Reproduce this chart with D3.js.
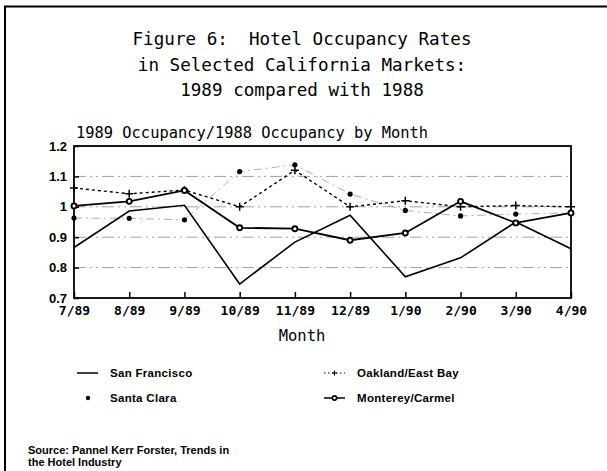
<!DOCTYPE html>
<html>
<head>
<meta charset="utf-8">
<script src="https://cdn.jsdelivr.net/npm/d3@7"></script>
<style>
  body { margin: 0; background: #fff; }
  svg text { fill: #000; white-space: pre; }
</style>
</head>
<body>
<div id="chart"></div>
<script>
// chart data
var months = ["7/89", "8/89", "9/89", "10/89", "11/89", "12/89", "1/90", "2/90", "3/90", "4/90"];
var sanFrancisco = [0.866, 0.986, 1.005, 0.746, 0.884, 0.972, 0.770, 0.832, 0.950, 0.862];
var santaClara   = [0.963, 0.962, 0.957, 1.116, 1.138, 1.042, 0.988, 0.970, 0.976, 0.980];
var oakland      = [1.062, 1.043, 1.055, 1.000, 1.120, 1.000, 1.020, 1.000, 1.004, 1.000];
var monterey     = [1.003, 1.018, 1.054, 0.931, 0.928, 0.890, 0.914, 1.018, 0.947, 0.980];
var yTicks = [0.7, 0.8, 0.9, 1, 1.1, 1.2];
var gridVals = [0.8, 0.9, 1, 1.1];
var titleLines = ["Figure 6:  Hotel Occupancy Rates", "in Selected California Markets:", "1989 compared with 1988"];

var W = 607, H = 471;
var margin = { top: 146, right: 36, bottom: 173, left: 74 },
    width = W - margin.left - margin.right,
    height = H - margin.top - margin.bottom;

var svg = d3.select("#chart").append("svg")
    .attr("width", W)
    .attr("height", H);

// page border (top and left)
svg.append("path")
    .attr("d", "M5,471 L5,6.5 L607,6.5")
    .attr("fill", "none")
    .attr("stroke", "#000")
    .attr("stroke-width", 2);

svg.selectAll("text.title")
    .data(titleLines)
    .enter().append("text")
    .attr("class", "title")
    .attr("x", 302)
    .attr("y", function(d, i) { return 45 + i * 25.5; })
    .attr("text-anchor", "middle")
    .style("font-family", "'DejaVu Sans Mono', monospace")
    .style("font-size", "17.6px")
    .text(function(d) { return d; });

svg.append("text")
    .attr("x", 76)
    .attr("y", 138)
    .style("font-family", "'DejaVu Sans Mono', monospace")
    .style("font-size", "15.4px")
    .text("1989 Occupancy/1988 Occupancy by Month");

var g = svg.append("g")
    .attr("transform", "translate(" + margin.left + "," + margin.top + ")");

var x = d3.scalePoint().domain(months).range([0, width]);
var y = d3.scaleLinear().domain([0.7, 1.2]).range([height, 0]);

// dash-dot grid lines
g.selectAll("line.grid")
    .data(gridVals)
    .enter().append("line")
    .attr("class", "grid")
    .attr("x1", 0).attr("x2", width)
    .attr("y1", function(d) { return y(d); })
    .attr("y2", function(d) { return y(d); })
    .attr("stroke", "#a0a0a0")
    .attr("stroke-width", 1)
    .attr("stroke-dasharray", "12,4,2,4,2,4");

// axes with inward ticks
var yAxis = g.append("g")
    .call(d3.axisLeft(y).tickValues(yTicks).tickSize(-5).tickPadding(7)
        .tickFormat(function(d) { return d === 1 ? "1" : d3.format(".1f")(d); }));
var xAxis = g.append("g")
    .attr("transform", "translate(0," + height + ")")
    .call(d3.axisBottom(x).tickSize(-6).tickPadding(8));

[yAxis, xAxis].forEach(function(a) {
    a.select(".domain").remove();
    a.selectAll("line").attr("stroke", "#000").attr("stroke-width", 1.5);
});
yAxis.selectAll("text")
    .style("font-family", "'Liberation Sans', Arial, sans-serif")
    .style("font-weight", "bold")
    .style("font-size", "13px");
xAxis.selectAll("text")
    .style("font-family", "'DejaVu Sans Mono', monospace")
    .style("font-weight", "bold")
    .style("font-size", "13px");

g.append("rect")
    .attr("width", width)
    .attr("height", height)
    .attr("fill", "none")
    .attr("stroke", "#000")
    .attr("stroke-width", 1.8);

svg.append("text")
    .attr("x", 302)
    .attr("y", 341)
    .attr("text-anchor", "middle")
    .style("font-family", "'DejaVu Sans Mono', monospace")
    .style("font-size", "15.5px")
    .text("Month");

var line = d3.line()
    .defined(function(d) { return d != null; })
    .x(function(d, i) { return x(months[i]); })
    .y(function(d) { return y(d); });

// Santa Clara: dots joined by a faint dash-dot line
g.append("path")
    .attr("d", line(santaClara))
    .attr("fill", "none")
    .attr("stroke", "#999")
    .attr("stroke-width", 0.8)
    .attr("stroke-dasharray", "8,4,2,4");
g.selectAll("circle.sc")
    .data(santaClara)
    .enter().append("circle")
    .attr("class", "sc")
    .attr("cx", function(d, i) { return x(months[i]); })
    .attr("cy", function(d) { return y(d); })
    .attr("r", 2.6)
    .attr("fill", "#000");

// Oakland/East Bay: dotted with plus markers
g.append("path")
    .attr("d", line(oakland))
    .attr("fill", "none")
    .attr("stroke", "#000")
    .attr("stroke-width", 1.4)
    .attr("stroke-dasharray", "3,3");
g.selectAll("path.ok")
    .data(oakland)
    .enter().append("path")
    .attr("class", "ok")
    .attr("d", function(d, i) {
        var cx = x(months[i]), cy = y(d);
        return "M" + (cx - 4) + "," + cy + "H" + (cx + 4) + "M" + cx + "," + (cy - 4) + "V" + (cy + 4);
    })
    .attr("stroke", "#000")
    .attr("stroke-width", 1.5);

// San Francisco: plain solid line
g.append("path")
    .attr("d", line(sanFrancisco))
    .attr("fill", "none")
    .attr("stroke", "#000")
    .attr("stroke-width", 1.6);

// Monterey/Carmel: solid line with small circles
g.append("path")
    .attr("d", line(monterey))
    .attr("fill", "none")
    .attr("stroke", "#000")
    .attr("stroke-width", 1.8);
g.selectAll("circle.mc")
    .data(monterey)
    .enter().append("circle")
    .attr("class", "mc")
    .attr("cx", function(d, i) { return x(months[i]); })
    .attr("cy", function(d) { return y(d); })
    .attr("r", 2.5)
    .attr("fill", "#fff")
    .attr("stroke", "#000")
    .attr("stroke-width", 1.9);

// legend
var legendItems = [
    { name: "San Francisco", col: 0, row: 0, kind: "solid" },
    { name: "Santa Clara", col: 0, row: 1, kind: "dot" },
    { name: "Oakland/East Bay", col: 1, row: 0, kind: "plus" },
    { name: "Monterey/Carmel", col: 1, row: 1, kind: "circle" }
];
var lg = svg.append("g");
var items = lg.selectAll("g.item")
    .data(legendItems)
    .enter().append("g")
    .attr("class", "item")
    .attr("transform", function(d) {
        return "translate(" + (d.col ? 324 : 77) + "," + (d.row ? 398 : 373) + ")";
    });
items.append("text")
    .attr("x", 33)
    .attr("y", 0)
    .attr("dy", "0.35em")
    .style("font-family", "'Liberation Sans', Arial, sans-serif")
    .style("font-weight", "bold")
    .style("font-size", "11.5px")
    .style("letter-spacing", "0.3px")
    .text(function(d) { return d.name; });
items.each(function(d) {
    var s = d3.select(this);
    if (d.kind === "solid") {
        s.append("line").attr("x1", 0).attr("x2", 21).attr("stroke", "#000").attr("stroke-width", 1.5);
    } else if (d.kind === "dot") {
        s.append("circle").attr("cx", 11).attr("r", 2.2).attr("fill", "#000");
    } else if (d.kind === "plus") {
        s.append("line").attr("x1", 0).attr("x2", 21).attr("stroke", "#000").attr("stroke-width", 1.2).attr("stroke-dasharray", "1.5,2.5");
        s.append("path").attr("d", "M8,0H13M10.5,-2.5V2.5").attr("stroke", "#000").attr("stroke-width", 1.2);
    } else {
        s.append("line").attr("x1", 0).attr("x2", 21).attr("stroke", "#000").attr("stroke-width", 1.5);
        s.append("circle").attr("cx", 10.5).attr("r", 2.1).attr("fill", "#fff").attr("stroke", "#000").attr("stroke-width", 1.6);
    }
});

// source note
svg.selectAll("text.src")
    .data(["Source: Pannel Kerr Forster, Trends in", "the Hotel Industry"])
    .enter().append("text")
    .attr("class", "src")
    .attr("x", 28)
    .attr("y", function(d, i) { return 454 + i * 12; })
    .style("font-family", "'Liberation Sans', Arial, sans-serif")
    .style("font-weight", "bold")
    .style("font-size", "11px")
    .text(function(d) { return d; });
</script>
</body>
</html>
